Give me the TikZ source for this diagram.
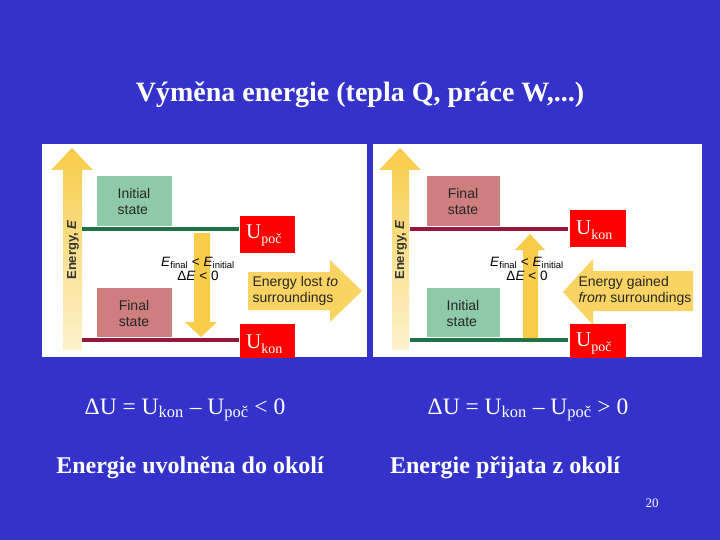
\documentclass[tikz,border=0pt]{standalone}
\usepackage{fontspec}
\setmainfont{Liberation Serif}
\setsansfont{Liberation Sans}
\usepackage{tikz}
\definecolor{slideBlue}{RGB}{51, 51, 204}
\definecolor{arrowYellow}{RGB}{248, 204, 72}
\definecolor{paleYellow}{RGB}{252, 242, 205}
\definecolor{stateGreen}{RGB}{142, 202, 168}
\definecolor{stateRed}{RGB}{206, 126, 126}
\definecolor{lineGreen}{RGB}{32, 112, 72}
\definecolor{lineRed}{RGB}{150, 22, 62}
\definecolor{boxRed}{RGB}{255, 0, 0}
\tikzset{
  statelabel/.style={
    font=\sffamily\fontsize{14}{16}\selectfont,
    text=black!85, align=left
  },
  smalllabel/.style={
    font=\sffamily\fontsize{13.5}{13.5}\selectfont,
    text=black, align=center, inner sep=0pt
  },
  ulabel/.style={
    anchor=west, inner sep=0pt, text=white
  },
  levelline/.style={
    line width=4pt
  },
  whitetext/.style={
    text=white, inner sep=0pt
  }
}
\newcommand{\Ubig}[1]{{\fontsize{21}{21}\selectfont U}{\fontsize{14}{14}\selectfont\raisebox{-5pt}{#1}}}

\begin{document}
\begin{tikzpicture}[x=1pt, y=-1pt]

  % ── Slide background ─────────────────────────────────────────────────────
  \fill[slideBlue] (0,0) rectangle (720,540);
  \node[whitetext,font=\bfseries\fontsize{28}{32}\selectfont] (title) at (360,95)
    {Výměna energie (tepla Q, práce W,...)};

  % ── Panels ───────────────────────────────────────────────────────────────
  \fill[white] (42,144) rectangle (367,357);
  \fill[white] (373,144) rectangle (702,357);

  % ── Left panel: energy released ──────────────────────────────────────────
  \shade[top color=arrowYellow,bottom color=paleYellow]
    (63,350) -- (63,170) -- (51,170) -- (72,148) -- (93,170) -- (82,170) -- (82,350) -- cycle;
  \node[font=\sffamily\bfseries\fontsize{13}{13}\selectfont,text=black!80,rotate=90] (axisL) at (73,250)
    {Energy, \textit{E}};

  \fill[stateGreen] (97,176) rectangle (172,226);
  \node[statelabel] (initL) at (134,201) {Initial\\state};
  \fill[stateRed] (97,288) rectangle (172,337);
  \node[statelabel] (finalL) at (134,313) {Final\\state};

  \draw[levelline,lineGreen] (82,229) -- (239,229);
  \draw[levelline,lineRed] (82,340) -- (239,340);

  \fill[arrowYellow]
    (194,233) -- (210,233) -- (210,322) -- (217,322) -- (201,337) -- (185,322) -- (194,322) -- cycle;
  \node[smalllabel] (dEL) at (198,269)
    {\textit{E}\textsubscript{final} < \textit{E}\textsubscript{initial}\\[1pt]Δ\textit{E} < 0};

  \fill[arrowYellow!85!white]
    (248,272) -- (330,272) -- (330,260) -- (362,291) -- (330,322) -- (330,310) -- (248,310) -- cycle;
  \node[statelabel,anchor=west] (lostL) at (249,291)
    {Energy lost \textit{to}\\surroundings};

  \fill[boxRed] (240,216) rectangle (295,253);
  \node[ulabel] (upocL) at (246,236) {\Ubig{poč}};
  \fill[boxRed] (240,324) rectangle (295,358);
  \node[ulabel] (ukonL) at (246,344) {\Ubig{kon}};

  % ── Right panel: energy absorbed ─────────────────────────────────────────
  \shade[top color=arrowYellow,bottom color=paleYellow]
    (392,350) -- (392,170) -- (379,170) -- (400,148) -- (421,170) -- (409,170) -- (409,350) -- cycle;
  \node[font=\sffamily\bfseries\fontsize{13}{13}\selectfont,text=black!80,rotate=90] (axisR) at (401,250)
    {Energy, \textit{E}};

  \fill[stateRed] (427,176) rectangle (500,226);
  \node[statelabel] (finalR) at (463,201) {Final\\state};
  \fill[stateGreen] (427,288) rectangle (500,337);
  \node[statelabel] (initR) at (463,313) {Initial\\state};

  \draw[levelline,lineRed] (410,229) -- (568,229);
  \draw[levelline,lineGreen] (410,340) -- (568,340);

  \fill[arrowYellow]
    (523,338) -- (538,338) -- (538,250) -- (545,250) -- (530,234) -- (515,250) -- (523,250) -- cycle;
  \node[smalllabel] (dER) at (527,269)
    {\textit{E}\textsubscript{final} < \textit{E}\textsubscript{initial}\\[1pt]Δ\textit{E} < 0};

  \fill[arrowYellow!85!white]
    (563,292) -- (593,259) -- (593,271) -- (693,271) -- (693,311) -- (593,311) -- (593,325) -- cycle;
  \node[statelabel,anchor=west] (gainR) at (575,291)
    {Energy gained\\\textit{from} surroundings};

  \fill[boxRed] (570,210) rectangle (626,247);
  \node[ulabel] (ukonR) at (576,230) {\Ubig{kon}};
  \fill[boxRed] (570,324) rectangle (626,358);
  \node[ulabel] (upocR) at (576,344) {\Ubig{poč}};

  % ── Formulas and captions ────────────────────────────────────────────────
  \node[whitetext,font=\fontsize{23.5}{25}\selectfont] (dUL) at (185,410)
    {ΔU = U\textsubscript{kon} – U\textsubscript{poč} < 0};
  \node[whitetext,font=\fontsize{23.5}{25}\selectfont] (dUR) at (528,410)
    {ΔU = U\textsubscript{kon} – U\textsubscript{poč} > 0};
  \node[whitetext,font=\bfseries\fontsize{24}{26}\selectfont] (capL) at (190,468)
    {Energie uvolněna do okolí};
  \node[whitetext,font=\bfseries\fontsize{24}{26}\selectfont] (capR) at (505,468)
    {Energie přijata z okolí};
  \node[whitetext,font=\fontsize{13}{13}\selectfont] (page) at (652,503) {20};

\end{tikzpicture}
\end{document}
